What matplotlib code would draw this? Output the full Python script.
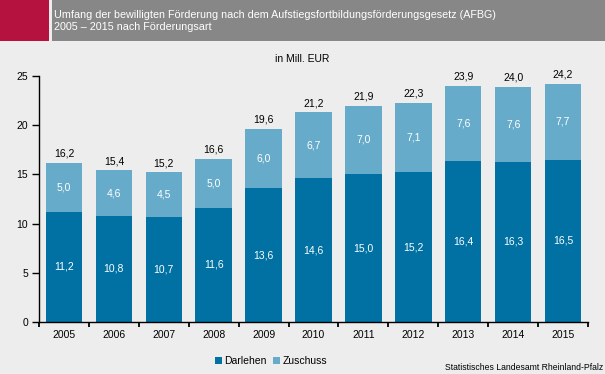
import numpy as np
import matplotlib.pyplot as plt
from matplotlib.patches import Patch, Rectangle

plt.rcParams["font.family"] = ["Liberation Sans", "DejaVu Sans"]
plt.rcParams["font.size"] = 7.5

# data
years = ["2005", "2006", "2007", "2008", "2009", "2010", "2011", "2012", "2013", "2014", "2015"]
darlehen = [11.2, 10.8, 10.7, 11.6, 13.6, 14.6, 15.0, 15.2, 16.4, 16.3, 16.5]
zuschuss = [5.0, 4.6, 4.5, 5.0, 6.0, 6.7, 7.0, 7.1, 7.6, 7.6, 7.7]
totals = [16.2, 15.4, 15.2, 16.6, 19.6, 21.2, 21.9, 22.3, 23.9, 24.0, 24.2]

c_dark = "#0071A2"
c_light = "#66ABC9"
bg = "#ECEDEC"

fig = plt.figure(figsize=(6.05, 3.74), dpi=100, facecolor=bg)

# header band
fig.patches.append(Rectangle((0, 1 - 41/374), 49/605, 41/374, transform=fig.transFigure,
                             fc="#B5123F", ec="none", zorder=0))
fig.patches.append(Rectangle((52/605, 1 - 41/374), 1 - 52/605, 41/374, transform=fig.transFigure,
                             fc="#878787", ec="none", zorder=0))
fig.text(54/605, 1 - 15/374, "Umfang der bewilligten Förderung nach dem Aufstiegsfortbildungsförderungsgesetz (AFBG)",
         color="w", fontsize=7.75, va="center", ha="left")
fig.text(54/605, 1 - 27/374, "2005 – 2015 nach Förderungsart",
         color="w", fontsize=7.75, va="center", ha="left")

ax = fig.add_axes([39/605, 1 - 322/374, (588 - 39)/605, (322 - 76)/374])
ax.set_facecolor("none")
x = np.arange(len(years))
w = 0.73
d = np.array(darlehen)
z = np.array(zuschuss)
ax.bar(x, d, w, color=c_dark, label="Darlehen")
ax.bar(x, z, w, bottom=d, color=c_light, label="Zuschuss")

for i in range(len(years)):
    ax.text(x[i], d[i]/2, ("%.1f" % d[i]).replace(".", ","), ha="center", va="center", color="w")
    ax.text(x[i], d[i] + z[i]/2, ("%.1f" % z[i]).replace(".", ","), ha="center", va="center", color="w")
    ax.annotate(("%.1f" % totals[i]).replace(".", ","), (x[i], d[i] + z[i]), xytext=(0, 3),
                textcoords="offset points", ha="center", va="bottom", color="k")

ax.set_xlim(-0.5, len(years) - 0.5)
ax.set_ylim(0, 25)
ax.set_yticks([0, 5, 10, 15, 20, 25])
ax.set_xticks(x)
ax.set_xticklabels(years)
ax.set_xticks(np.arange(-0.5, len(years)), minor=True)
ax.tick_params(axis="x", which="major", length=0, pad=6)
ax.tick_params(axis="x", which="minor", length=3.5, width=1.3, direction="out")
ax.tick_params(axis="y", length=5, width=1, direction="out", pad=3)
for s in ["top", "right"]:
    ax.spines[s].set_visible(False)
for s in ["left", "bottom"]:
    ax.spines[s].set_linewidth(1)

fig.text(302/605, 1 - 59/374, "in Mill. EUR", ha="center", va="center")

handles = [Patch(fc=c_dark, ec="none"), Patch(fc=c_light, ec="none")]
fig.legend(handles, ["Darlehen", "Zuschuss"], loc="center", bbox_to_anchor=(271/605, 1 - 361/374),
           ncol=2, frameon=False, handlelength=0.7, handleheight=0.7, handletextpad=0.2,
           columnspacing=0.6, fontsize=7.5)

fig.text(603/605, 1 - 367/374, "Statistisches Landesamt Rheinland-Pfalz", ha="right", va="center", fontsize=6.2)

fig.savefig("out.png", dpi=100, facecolor=bg)
